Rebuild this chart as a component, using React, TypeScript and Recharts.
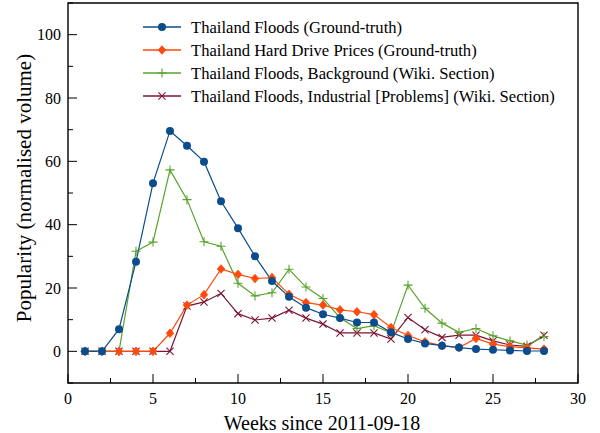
import React from 'react';
import { LineChart, Line, XAxis, YAxis, ReferenceArea, Legend } from 'recharts';

const weeks = [1,2,3,4,5,6,7,8,9,10,11,12,13,14,15,16,17,18,19,20,21,22,23,24,25,26,27,28];
const floodsGT = [0,0,7.0,28.3,53.1,69.6,64.9,59.9,47.4,38.9,30.0,22.2,17.2,13.8,11.7,10.5,9.1,9.1,6.0,3.9,2.5,1.8,1.2,0.7,0.5,0.3,0.1,0.1];
const hddGT = [0,0,0,0,0,5.7,14.6,17.9,26.0,24.3,23.0,23.3,18.0,15.4,14.6,13.1,12.5,11.6,7.5,5.0,3.0,1.8,1.2,4.1,2.3,1.5,1.1,0.7];
const background = [0,0,0,31.6,34.5,57.3,47.9,34.6,33.2,21.5,17.5,18.5,25.9,20.3,16.7,10.6,7.2,8.1,5.8,20.9,13.6,8.9,6.0,7.2,4.9,3.3,2.0,4.7];
const industrial = [0,0,0,0,0,0,14.3,15.6,18.3,11.9,9.9,10.5,13.0,10.5,8.6,5.8,5.8,5.8,3.9,10.7,6.8,4.4,5.1,5.1,3.3,2.0,1.6,5.1];

const xTicks = [0,2.5,5,7.5,10,12.5,15,17.5,20,22.5,25,27.5,30];
const yTicks = [-10,0,10,20,30,40,50,60,70,80,90,100,110];

const seriesNames = [
  'Thailand Floods (Ground-truth)',
  'Thailand Hard Drive Prices (Ground-truth)',
  'Thailand Floods, Background (Wiki. Section)',
  'Thailand Floods, Industrial [Problems] (Wiki. Section)',
];

const C_BLUE = '#0b4d8c';
const C_RED = '#ff4a0c';
const C_GREEN = '#5aa22a';
const C_DRED = '#7d1535';

const data = weeks.map((w, i) => ({
  week: w,
  a: floodsGT[i],
  b: hddGT[i],
  c: background[i],
  d: industrial[i],
}));

const FONT = '"Liberation Serif", "Times New Roman", serif';

const Marker = ({ kind, cx, cy, color }: any) => {
  if (kind === 'circle') return <circle cx={cx} cy={cy} r={4} fill={color} />;
  if (kind === 'diamond')
    return <path d={`M${cx},${cy - 4.3}L${cx + 3.8},${cy}L${cx},${cy + 4.3}L${cx - 3.8},${cy}Z`} fill={color} stroke={color} strokeWidth={0.8} strokeLinejoin="round" />;
  if (kind === 'plus')
    return <path d={`M${cx - 4.5},${cy}H${cx + 4.5}M${cx},${cy - 4.5}V${cy + 4.5}`} stroke={color} strokeWidth={1.1} fill="none" />;
  return <path d={`M${cx - 3.6},${cy - 3.6}L${cx + 3.6},${cy + 3.6}M${cx - 3.6},${cy + 3.6}L${cx + 3.6},${cy - 3.6}`} stroke={color} strokeWidth={1.1} fill="none" />;
};

const makeDot = (kind: string, color: string, k: string) => (p: any) => (
  <g key={`${k}-${p.index}`}>
    <Marker kind={kind} cx={p.cx} cy={p.cy} color={color} />
  </g>
);

const XTick = ({ x, y, payload }: any) => {
  const v = payload.value;
  const major = v % 5 === 0;
  return (
    <g>
      <line x1={x} x2={x} y1={y} y2={y - (major ? 9 : 5)} stroke="#000" strokeWidth={1} />
      {major && (
        <text x={x} y={y + 21} textAnchor="middle" fontFamily={FONT} fontSize={16} fill="#000">
          {v}
        </text>
      )}
    </g>
  );
};

const YTick = ({ x, y, payload }: any) => {
  const v = payload.value;
  const major = v % 20 === 0 && v >= 0 && v <= 100;
  return (
    <g>
      <line x1={x} x2={x + (major ? 9 : 5)} y1={y} y2={y} stroke="#000" strokeWidth={1} />
      {major && (
        <text x={x - 7} y={y + 5.5} textAnchor="end" fontFamily={FONT} fontSize={16} fill="#000">
          {v}
        </text>
      )}
    </g>
  );
};

const legendItems = [
  { name: seriesNames[0], color: C_BLUE, kind: 'circle' },
  { name: seriesNames[1], color: C_RED, kind: 'diamond' },
  { name: seriesNames[2], color: C_GREEN, kind: 'plus' },
  { name: seriesNames[3], color: C_DRED, kind: 'cross' },
];

const LegendContent = () => (
  <svg width={440} height={100} style={{ display: 'block' }}>
    {legendItems.map((it, i) => {
      const cy = 13 + i * 23;
      return (
        <g key={it.name}>
          <line x1={3} x2={41} y1={cy} y2={cy} stroke={it.color} strokeWidth={1.3} />
          <Marker kind={it.kind} cx={22} cy={cy} color={it.color} />
          <text x={51} y={cy + 5.5} fontFamily={FONT} fontSize={16.6} fill="#000">
            {it.name}
          </text>
        </g>
      );
    })}
  </svg>
);

export default function App() {
  return (
    <div style={{ position: 'absolute', left: 0, top: 0, width: 600, height: 433, background: '#fff' }}>
      <LineChart width={600} height={433} data={data} margin={{ top: 3, right: 22, bottom: 0, left: 0 }}>
        <XAxis
          dataKey="week"
          type="number"
          domain={[0, 30]}
          ticks={xTicks}
          interval={0}
          tickSize={0}
          tickMargin={0}
          tickLine={false}
          axisLine={false}
          height={50}
          tick={<XTick />}
          allowDataOverflow
          label={{
            content: () => (
              <text x={322} y={430} textAnchor="middle" fontFamily={FONT} fontSize={20} fill="#000">
                Weeks since 2011-09-18
              </text>
            ),
          }}
        />
        <YAxis
          type="number"
          domain={[-10, 110]}
          ticks={yTicks}
          interval={0}
          tickSize={0}
          tickMargin={0}
          tickLine={false}
          axisLine={false}
          width={68}
          tick={<YTick />}
          allowDataOverflow
          label={{
            content: () => (
              <text x={31} y={188} transform="rotate(-90, 31, 188)" textAnchor="middle" fontFamily={FONT} fontSize={21} fill="#000">
                Popularity (normalised volume)
              </text>
            ),
          }}
        />
        <ReferenceArea x1={0} x2={30} y1={-10} y2={110} fill="none" stroke="#000" strokeWidth={1.4} />
        <Legend
          layout="vertical"
          align="center"
          verticalAlign="middle"
          wrapperStyle={{ left: 140, top: 14, width: 440, height: 100 }}
          content={<LegendContent />}
        />
        <Line dataKey="d" name={seriesNames[3]} stroke={C_DRED} strokeWidth={1.2} dot={makeDot('cross', C_DRED, 'd')} isAnimationActive={false} />
        <Line dataKey="c" name={seriesNames[2]} stroke={C_GREEN} strokeWidth={1.2} dot={makeDot('plus', C_GREEN, 'c')} isAnimationActive={false} />
        <Line dataKey="b" name={seriesNames[1]} stroke={C_RED} strokeWidth={1.2} dot={makeDot('diamond', C_RED, 'b')} isAnimationActive={false} />
        <Line dataKey="a" name={seriesNames[0]} stroke={C_BLUE} strokeWidth={1.2} dot={makeDot('circle', C_BLUE, 'a')} isAnimationActive={false} />
      </LineChart>
    </div>
  );
}
